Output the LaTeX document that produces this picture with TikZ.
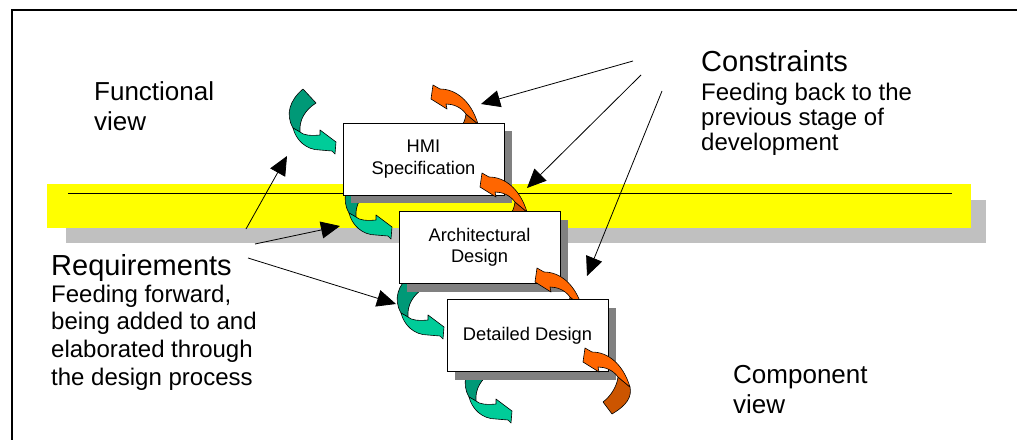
\documentclass[tikz,border=0pt]{standalone}
\usepackage{fontspec}
\setmainfont{Liberation Sans}
\usetikzlibrary{arrows.meta,shadows}

\definecolor{bandyellow}{RGB}{255,255,0}
\definecolor{bandgray}{RGB}{192,192,192}
\definecolor{boxshadow}{RGB}{128,128,128}
\definecolor{tealdark}{RGB}{0,153,119}
\definecolor{teallight}{RGB}{0,204,153}
\definecolor{orangelight}{RGB}{255,102,0}
\definecolor{orangedark}{RGB}{204,85,0}

\tikzset{
  stagebox/.style={draw=black, fill=white, line width=1pt,
    minimum width=161pt, minimum height=72pt, inner sep=0pt,
    align=center, font=\fontsize{18.3}{21.5}\selectfont,
    drop shadow={shadow xshift=8pt, shadow yshift=-8pt, fill=boxshadow, opacity=1}},
  title/.style={anchor=base west, inner sep=0pt, font=\fontsize{29}{33}\selectfont},
  viewlabel/.style={anchor=base west, inner sep=0pt, font=\fontsize{26}{30}\selectfont},
  notes/.style={anchor=base west, inner sep=0pt},
  pointer/.style={line width=0.8pt, -{Triangle[length=19pt, width=17pt]}},
  ribbon/.style={draw=black, line width=0.6pt, line join=round},
  % forward ribbon arrow: curls down and points to the right; origin at its tip
  forwardturn/.pic={
    \path[ribbon, fill=tealdark]
      (-33,-53) .. controls (-46,-42) and (-51,-28) .. (-43,-14)
      -- (-36,-10) .. controls (-37,-22) and (-31,-32) .. (-20,-39) -- cycle;
    \path[ribbon, fill=teallight]
      (-43,-14) .. controls (-40,-2) and (-30,8) .. (-16,8)
      -- (-4,9) -- (-1,12) -- (0,0) -- (-16,-12) -- (-16,-7)
      .. controls (-26,-6) and (-33,-7) .. (-36,-10) -- cycle;
  },
  % backward ribbon arrow: rises from below and points to the left; origin at its tip
  backturn/.pic={
    \path[ribbon, fill=orangedark]
      (47,25) .. controls (49,35) and (44,43) .. (29,52)
      -- (20,40) .. controls (28,34) and (34,24) .. (35,15) -- cycle;
    \path[ribbon, fill=orangelight]
      (0,0) -- (2,-14) -- (9,-10) .. controls (25,-10) and (40,2) .. (47,25)
      -- (35,15) .. controls (30,8) and (22,5) .. (15,5) -- (16,10) -- cycle;
  }
}

\begin{document}
\begin{tikzpicture}[x=1pt, y=-1pt]
\useasboundingbox (0,0) rectangle (1017,439);

% outer frame (left and top edges)
\draw[line width=2.2pt] (12,441) |- (1019,10);

% horizontal band separating the functional and component views
\fill[bandgray] (66,200) rectangle (986,243);
\fill[bandyellow] (47,184) rectangle (971,228);
\draw[line width=0.8pt] (68,193) -- (952,193);

% labels
\node[viewlabel] (functional) at (94,100)
  {\begin{tabular}[t]{@{}l@{}}Functional\\view\end{tabular}};
\node[viewlabel] (component) at (733,383)
  {\begin{tabular}[t]{@{}l@{}}Component\\view\end{tabular}};
\node[title] (constraints) at (701,71) {Constraints};
\node[notes] (constraints-note) at (701,100)
  {\fontsize{24}{25}\selectfont\begin{tabular}[t]{@{}l@{}}Feeding back to the\\previous stage of\\development\end{tabular}};
\node[title] (requirements) at (51,275) {Requirements};
\node[notes] (requirements-note) at (51,302)
  {\fontsize{24}{27.7}\selectfont\begin{tabular}[t]{@{}l@{}}Feeding forward,\\being added to and\\elaborated through\\the design process\end{tabular}};

% stages with their forward and backward ribbons, back to front
\pic at (336,142) {forwardturn};
\pic at (431,99) {backturn};
\pic at (392,227) {forwardturn};
\node[stagebox] (hmi) at (423.5,159) {HMI\\Specification};
\pic at (480,187) {backturn};
\pic at (444,327) {forwardturn};
\node[stagebox] (arch) at (479.5,247.5) {Architectural\\Design};
\pic at (535,282) {backturn};
\pic at (512,411) {forwardturn};
\node[stagebox] (detail) at (527.5,335.5) {Detailed Design};
\pic at (583,362) {backturn};

% pointer ends
\coordinate (con-a) at (633,61);
\coordinate (con-b) at (641,75);
\coordinate (con-c) at (662,91);
\coordinate (con-a-tip) at (481,104);
\coordinate (con-b-tip) at (527,188);
\coordinate (con-c-tip) at (587,276);
\coordinate (req-a) at (246,229);
\coordinate (req-b) at (255,244);
\coordinate (req-c) at (248,258);
\coordinate (req-a-tip) at (287,156);
\coordinate (req-b-tip) at (340,226);
\coordinate (req-c-tip) at (396,304);

\draw[pointer] (con-a) -- (con-a-tip);
\draw[pointer] (con-b) -- (con-b-tip);
\draw[pointer] (con-c) -- (con-c-tip);
\draw[pointer] (req-a) -- (req-a-tip);
\draw[pointer] (req-b) -- (req-b-tip);
\draw[pointer] (req-c) -- (req-c-tip);
\end{tikzpicture}
\end{document}
